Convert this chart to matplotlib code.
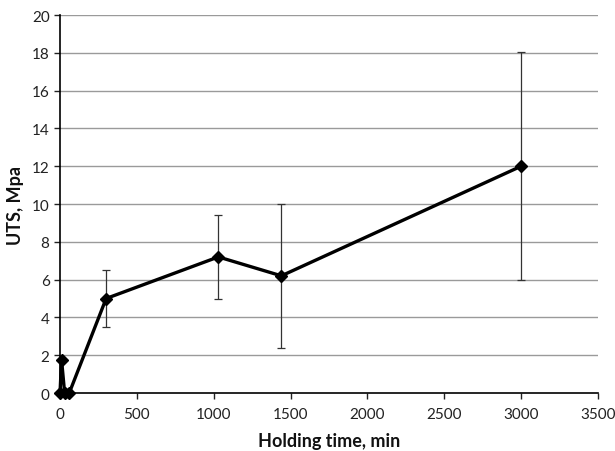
import matplotlib
matplotlib.use("Agg")
import matplotlib.pyplot as plt

# Holding time (min) and ultimate tensile strength (MPa)
holding_time = [0, 10, 30, 60, 300, 1030, 1440, 3000]
uts = [0, 1.75, 0, 0, 5.0, 7.2, 6.2, 12.0]
err_low = [0, 0, 0, 0, 1.5, 2.2, 3.8, 6.0]
err_high = [0, 0, 0, 0, 1.5, 2.2, 3.8, 6.05]

x_ticks = [0, 500, 1000, 1500, 2000, 2500, 3000, 3500]
y_ticks = [0, 2, 4, 6, 8, 10, 12, 14, 16, 18, 20]

plt.rcParams['font.family'] = ['Lato', 'DejaVu Sans']

fig = plt.figure(figsize=(6.15, 4.52), dpi=100)
ax = fig.add_axes([0.0976, 0.1283, 0.8748, 0.8363])

for yv in y_ticks[1:]:
    ax.axhline(yv, color='#9a9a9a', lw=1.0, zorder=1)

# error bars only where spread was measured
eb_idx = [i for i, e in enumerate(err_low) if e > 0 or err_high[i] > 0]
ax.errorbar([holding_time[i] for i in eb_idx], [uts[i] for i in eb_idx],
            yerr=[[err_low[i] for i in eb_idx], [err_high[i] for i in eb_idx]],
            fmt='none', ecolor='#333333', elinewidth=0.9, capsize=3,
            capthick=0.9, zorder=2)

ax.plot(holding_time, uts, color='black', lw=2.4, marker='D',
        markersize=6, markerfacecolor='black', markeredgecolor='black',
        zorder=3, clip_on=False)

ax.set_xlim(0, 3500)
ax.set_ylim(0, 20)
ax.set_xticks(x_ticks)
ax.set_yticks(y_ticks)
for s in ['top', 'right']:
    ax.spines[s].set_visible(False)
for s in ['left', 'bottom']:
    ax.spines[s].set_color('black')
    ax.spines[s].set_linewidth(1.2)
ax.tick_params(axis='both', direction='out', length=4, width=1,
               labelsize=11, colors='#222222')
ax.tick_params(axis='x', pad=6)
ax.set_xlabel('Holding time, min', fontsize=13, fontweight='bold',
              labelpad=8, color='#111111')
ax.set_ylabel('UTS, Mpa', fontsize=13, fontweight='bold', labelpad=6,
              color='#111111')

fig.savefig('out.png', dpi=100)
